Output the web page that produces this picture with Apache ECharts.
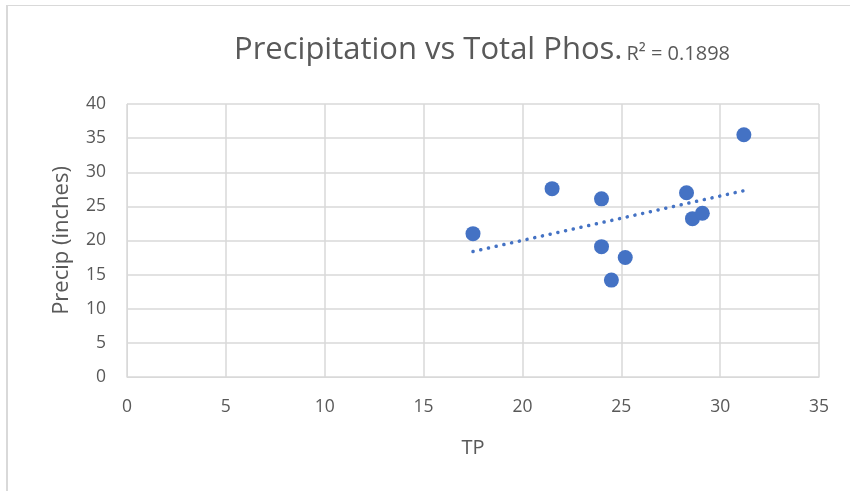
<!DOCTYPE html>
<html>
<head>
<meta charset="utf-8">
<script src="https://cdn.jsdelivr.net/npm/echarts@6/dist/echarts.min.js"></script>
<style>
  html, body { margin: 0; padding: 0; background: #fff; }
  #chart { width: 850px; height: 491px; }
</style>
</head>
<body>
<div id="chart"></div>
<script>
// data
const tpValues = [17.5, 21.5, 24.0, 24.0, 25.2, 24.5, 28.3, 28.6, 29.1, 31.2];
const precipValues = [21.0, 27.6, 26.1, 19.1, 17.5, 14.2, 27.0, 23.2, 24.0, 35.5];
const xTicks = [0, 5, 10, 15, 20, 25, 30, 35];
const yTicks = [0, 5, 10, 15, 20, 25, 30, 35, 40];
const r2Label = 'R² = 0.1898';

const textColor = '#595959';
const gridColor = '#d9d9d9';
const pointColor = '#4472c4';

// linear trendline (least squares), from min x to max x
function trendLine(xs, ys) {
    const n = xs.length;
    const mx = xs.reduce((a, b) => a + b, 0) / n;
    const my = ys.reduce((a, b) => a + b, 0) / n;
    let sxy = 0, sxx = 0;
    for (let i = 0; i < n; i++) {
        sxy += (xs[i] - mx) * (ys[i] - my);
        sxx += (xs[i] - mx) * (xs[i] - mx);
    }
    const slope = sxy / sxx;
    const icpt = my - slope * mx;
    const x0 = Math.min(...xs), x1 = Math.max(...xs);
    return [[x0, icpt + slope * x0], [x1, icpt + slope * x1]];
}

const chart = echarts.init(document.getElementById('chart'));

const option = {
    backgroundColor: '#fff',
    animation: false,
    title: {
        text: '{a|Precipitation vs Total Phos.}{b|' + r2Label + '}',
        left: 229,
        top: 30,
        textStyle: {
            rich: {
                a: { fontFamily: 'Open Sans', fontSize: 31, fontWeight: 'normal', color: textColor, verticalAlign: 'bottom' },
                b: { fontFamily: 'Open Sans', fontSize: 20, fontWeight: 'normal', color: textColor, verticalAlign: 'bottom', padding: [0, 0, 2, 4] }
            }
        }
    },
    grid: { left: 127, right: 31, top: 104, bottom: 114 },
    xAxis: {
        type: 'value',
        min: xTicks[0],
        max: xTicks[xTicks.length - 1],
        interval: 5,
        name: 'TP',
        nameLocation: 'middle',
        nameGap: 61,
        nameTextStyle: { fontFamily: 'Open Sans', fontSize: 20, color: textColor },
        axisLine: { show: true, lineStyle: { color: gridColor, width: 1 } },
        axisTick: { show: false },
        axisLabel: { fontFamily: 'Open Sans', fontSize: 17.5, color: textColor, margin: 21 },
        splitLine: { show: true, lineStyle: { color: gridColor, width: 1.5 } }
    },
    yAxis: {
        type: 'value',
        min: yTicks[0],
        max: yTicks[yTicks.length - 1],
        interval: 5,
        name: 'Precip (inches)',
        nameLocation: 'middle',
        nameGap: 54,
        nameTextStyle: { fontFamily: 'Open Sans', fontSize: 22, color: textColor },
        axisLine: { show: true, lineStyle: { color: gridColor, width: 1 } },
        axisTick: { show: false },
        axisLabel: { fontFamily: 'Open Sans', fontSize: 17.5, color: textColor, margin: 21 },
        splitLine: { show: true, lineStyle: { color: gridColor, width: 1.5 } }
    },
    series: [
        {
            type: 'scatter',
            data: tpValues.map((x, i) => [x, precipValues[i]]),
            symbolSize: 15,
            itemStyle: { color: pointColor, opacity: 1 },
            z: 3
        },
        {
            type: 'line',
            data: trendLine(tpValues, precipValues),
            showSymbol: false,
            symbol: 'none',
            lineStyle: { color: pointColor, width: 3.5, type: [0.1, 7.8], cap: 'round' },
            z: 2
        }
    ],
    graphic: [
        { type: 'line', shape: { x1: 6, y1: 5.5, x2: 850, y2: 5.5 }, style: { stroke: gridColor, lineWidth: 1 } },
        { type: 'line', shape: { x1: 7, y1: 5, x2: 7, y2: 491 }, style: { stroke: gridColor, lineWidth: 2 } }
    ]
};

chart.setOption(option);
</script>
</body>
</html>
